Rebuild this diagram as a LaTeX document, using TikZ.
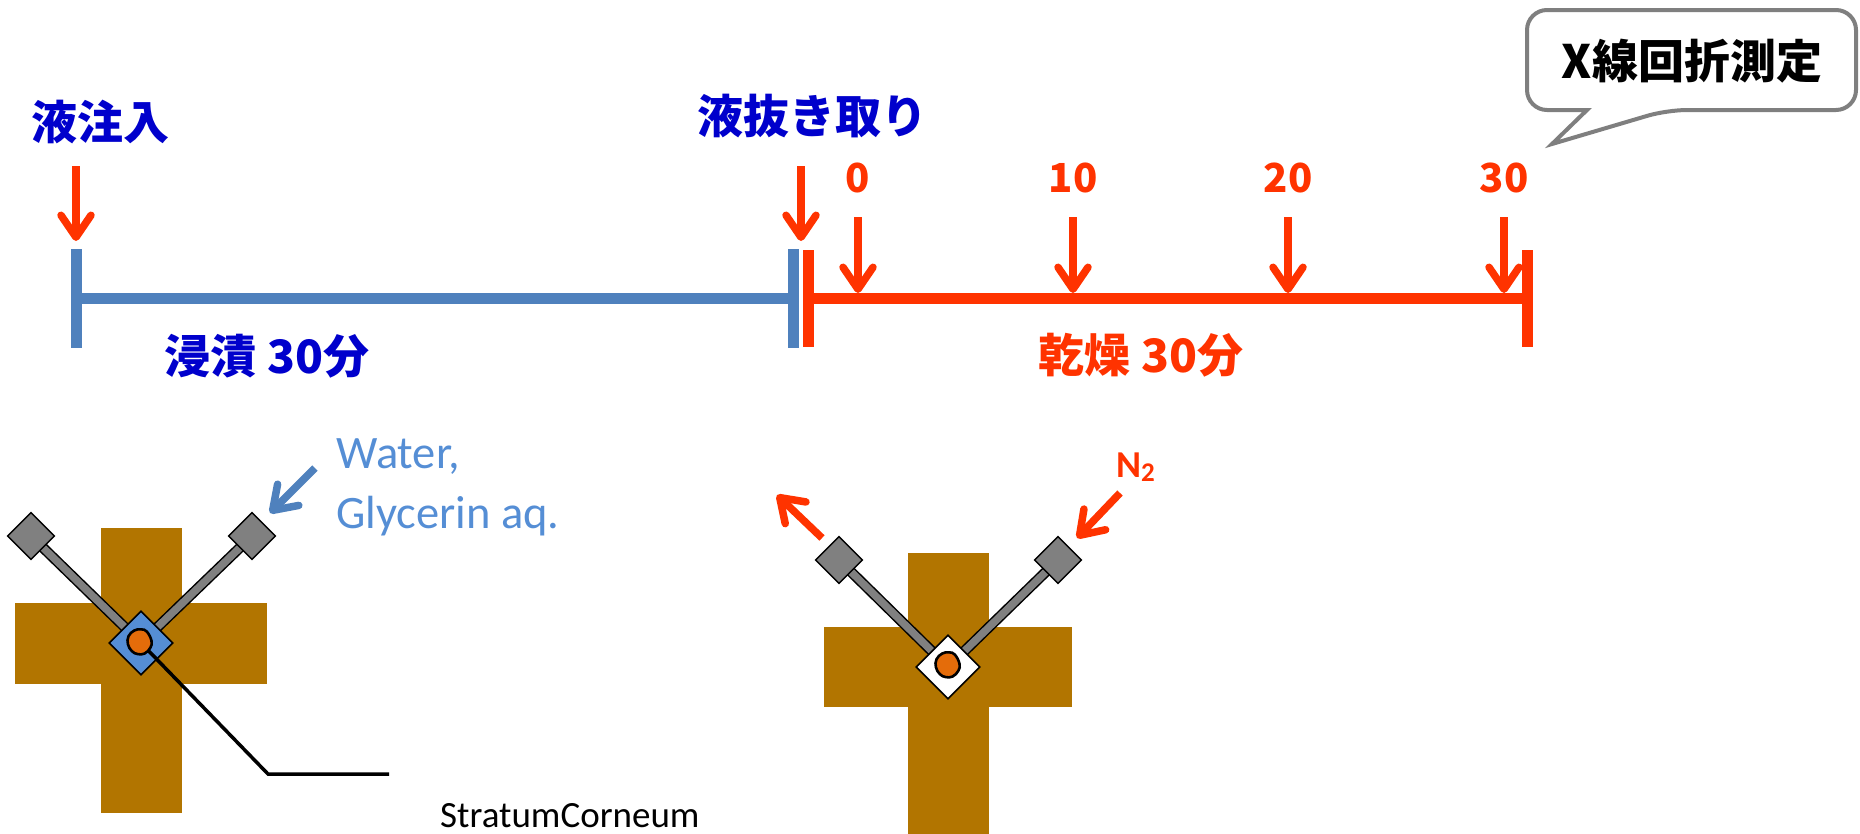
\documentclass[tikz,border=0pt]{standalone}
\usepackage{fontspec}
\setmainfont{Carlito}
\newfontfamily\jp{Noto Sans CJK JP}
\usetikzlibrary{arrows.meta}

\definecolor{tlblue}{HTML}{4F81BD}
\definecolor{tlred}{HTML}{FF3300}
\definecolor{jpblue}{HTML}{0000CC}
\definecolor{crossbrown}{HTML}{B27500}
\definecolor{liquid}{HTML}{558ED5}
\definecolor{sample}{HTML}{E46C0A}
\definecolor{rodgray}{HTML}{808080}
\definecolor{bubblegray}{HTML}{7F7F7F}

\tikzset{
  jptext/.style={font=\jp\bfseries\fontsize{46}{50}\selectfont, inner sep=0pt},
  numtext/.style={font=\jp\bfseries\fontsize{40}{44}\selectfont, inner sep=0pt, text=tlred},
  entext/.style={font=\fontsize{46.5}{56}\selectfont, inner sep=0pt, text=liquid, anchor=base west},
  barbhead/.style={-{Straight Barb[length=22pt,width=30pt,round]}},
  redarrow/.style={draw=tlred, line width=7.5pt, barbhead},
  bluearrow/.style={draw=tlblue, line width=7.5pt, barbhead},
  blueseg/.style={draw=tlblue, line width=11pt},
  redseg/.style={draw=tlred, line width=11pt},
  rodout/.style={draw=black, line width=10.5pt},
  rodin/.style={draw=rodgray, line width=7.5pt},
  probe/.style={rectangle, rotate=45, minimum size=33pt, inner sep=0pt,
                fill=rodgray, draw=black, line width=1.5pt},
  cell/.style={rectangle, rotate=45, minimum size=45pt, inner sep=0pt,
               draw=black, line width=1.6pt},
  blobline/.style={draw=black, fill=sample, line width=2.6pt},
}

% irregular sample piece centred on #1
\newcommand\drawblob[1]{%
  \draw[blobline, shift={#1}, scale=1.15] plot[smooth cycle, tension=0.7] coordinates
    {(10,-1) (9,5) (4,10) (-2,10.5) (-7,8) (-10.5,2) (-10,-5) (-5,-10) (1,-11) (6,-9)};}

\begin{document}
\begin{tikzpicture}[x=1pt,y=-1pt]
\useasboundingbox (0,0) rectangle (1860,833);

% ---------- time line ----------
\coordinate (b0) at (76,298);
\coordinate (b1) at (793,298);
\coordinate (r0) at (808,298);
\coordinate (r1) at (1527,298);
\draw[blueseg] (b0) -- (b1);
\draw[blueseg] (76,249) -- (76,348);
\draw[blueseg] (793,249) -- (793,348);
\draw[redseg] (r0) -- (r1);
\draw[redseg] (808,250) -- (808,347);
\draw[redseg] (1527,250) -- (1527,347);

% events
\node[jptext, text=jpblue] (inject) at (100,122) {液注入};
\node[jptext, text=jpblue] (drain) at (812,116) {液抜き取り};
\coordinate (injectA) at (76,166);  \coordinate (injectB) at (76,241);
\coordinate (drainA) at (801,166);  \coordinate (drainB) at (801,241);
\draw[redarrow] (injectA) -- (injectB);
\draw[redarrow] (drainA) -- (drainB);

% measurement times
\foreach \x/\t in {858/0, 1073/10, 1288/20, 1504/30}{
  \node[numtext] (m\t) at (\x,178) {\t};
  \coordinate (ma\t) at (\x,217);
  \coordinate (mb\t) at (\x,293);
  \draw[redarrow] (ma\t) -- (mb\t);
}

\node[jptext, text=jpblue] (soak) at (267,356) {浸漬 30分};
\node[jptext, text=tlred] (dry) at (1141,355) {乾燥 30分};

% speech bubble
\draw[bubblegray, line width=4pt, fill=white, line join=miter, rounded corners=20pt]
  (1527,10) -- (1856,10) -- (1856,110) -- (1667,110) [sharp corners] -- (1552,144)
  -- (1587,110) [rounded corners=20pt] -- (1527,110) -- cycle;
\node[jptext, text=black] (xrd) at (1692,61) {X線回折測定};

% ---------- cell during soaking ----------
\fill[crossbrown] (101,528) rectangle (182,813);
\fill[crossbrown] (15,603) rectangle (267,684);
\coordinate (cL) at (141,643);
\coordinate (pLa) at (31,536);
\coordinate (pLb) at (252,536);
\draw[rodout] (pLa) -- (cL);  \draw[rodin] (pLa) -- (cL);
\draw[rodout] (pLb) -- (cL);  \draw[rodin] (pLb) -- (cL);
\node[probe] (probeLa) at (pLa) {};
\node[probe] (probeLb) at (pLb) {};
\node[cell, fill=liquid] (cellL) at (cL) {};
\coordinate (lead1) at (268,774);
\coordinate (lead2) at (389,774);
\draw[line width=3.5pt] (cellL.center) -- (lead1) -- (lead2);
\drawblob{(140,642)}
\node[font=\fontsize{37}{44}\selectfont, inner sep=0pt, anchor=base west] (sc) at (440,827) {StratumCorneum};

\node[entext] (water) at (336,468) {Water,};
\node[entext] (glyc) at (336,528) {Glycerin aq.};
\coordinate (inA) at (315,468);
\coordinate (inB) at (270,513);
\draw[bluearrow] (inA) -- (inB);

% ---------- cell during drying ----------
\fill[crossbrown] (908,553) rectangle (989,840);
\fill[crossbrown] (824,627) rectangle (1072,707);
\coordinate (cR) at (948,667);
\coordinate (pRa) at (839,560);
\coordinate (pRb) at (1058,560);
\draw[rodout] (pRa) -- (cR);  \draw[rodin] (pRa) -- (cR);
\draw[rodout] (pRb) -- (cR);  \draw[rodin] (pRb) -- (cR);
\node[probe] (probeRa) at (pRa) {};
\node[probe] (probeRb) at (pRb) {};
\node[cell, fill=white] (cellR) at (cR) {};
\drawblob{(948,665)}

\coordinate (outA) at (822,538);
\coordinate (outB) at (777,495);
\draw[redarrow] (outA) -- (outB);
\coordinate (gasA) at (1120,493);
\coordinate (gasB) at (1077,538);
\draw[redarrow] (gasA) -- (gasB);
\node[font=\bfseries\fontsize{38}{44}\selectfont, text=tlred, inner sep=0pt, anchor=base west] (n2) at (1116,477) {N\raisebox{-0.12em}{\fontsize{27}{30}\selectfont 2}};
\end{tikzpicture}
\end{document}
